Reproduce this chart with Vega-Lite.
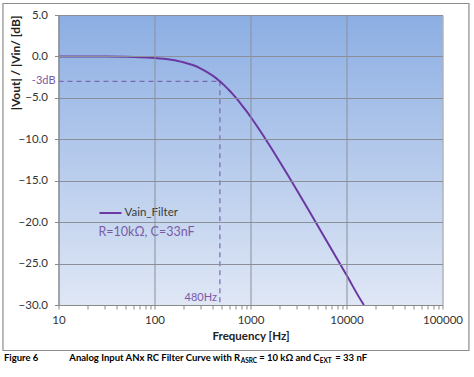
{
  "$schema": "https://vega.github.io/schema/vega-lite/v6.json",
  "width": 384,
  "height": 290,
  "autosize": {"type": "none"},
  "padding": {"left": 58.5, "top": 15, "right": 31.5, "bottom": 72},
  "background": "white",
  "config": {"view": {"stroke": null}, "font": "Lato"},
  "datasets": {
    "bg": [{"x": 10, "x2": 100000, "y": -30, "y2": 5}],
    "frame": [{"x": 2.64, "x2": 188500, "y": 6.39, "y2": -35.49}],
    "curve": [
      {"x": 10, "y": -0.002}, {"x": 20, "y": -0.008}, {"x": 30, "y": -0.017}, {"x": 50, "y": -0.047},
      {"x": 70, "y": -0.091}, {"x": 100, "y": -0.185}, {"x": 125, "y": -0.285}, {"x": 150, "y": -0.405},
      {"x": 175, "y": -0.541}, {"x": 200, "y": -0.695}, {"x": 250, "y": -1.042}, {"x": 300, "y": -1.432},
      {"x": 350, "y": -1.852}, {"x": 400, "y": -2.291}, {"x": 420, "y": -2.469}, {"x": 450, "y": -2.739},
      {"x": 480, "y": -3.010}, {"x": 520, "y": -3.372}, {"x": 550, "y": -3.642}, {"x": 600, "y": -4.087},
      {"x": 650, "y": -4.524}, {"x": 700, "y": -4.951}, {"x": 800, "y": -5.773}, {"x": 900, "y": -6.548},
      {"x": 1000, "y": -7.276}, {"x": 1200, "y": -8.603}, {"x": 1300, "y": -9.209}, {"x": 1500, "y": -10.320},
      {"x": 1700, "y": -11.317}, {"x": 2000, "y": -12.640}, {"x": 2500, "y": -14.491}, {"x": 3000, "y": -16.027},
      {"x": 4000, "y": -18.479}, {"x": 5000, "y": -20.394}, {"x": 7000, "y": -23.297}, {"x": 10000, "y": -26.385},
      {"x": 15000, "y": -29.902}, {"x": 15200, "y": -30.0}
    ],
    "dash": [
      {"x": 10, "x2": 480, "y": -3, "y2": -3},
      {"x": 480, "x2": 480, "y": -3, "y2": -30}
    ],
    "legendline": [{"x": 26.7, "x2": 45.3, "y": -18.9, "y2": -18.9}],
    "purpleLabels": [
      {"x": 10, "y": -3, "text": "-3dB"},
      {"x": 480, "y": -29.1, "text": "480Hz"}
    ],
    "legendText": [{"x": 48.7, "y": -18.9, "text": "Vain_Filter"}],
    "paramText": [{"x": 26.1, "y": -21.2, "text": "R=10kΩ, C=33nF"}],
    "captionLeft": [
      {"x": 2.70, "y": -36.34, "text": "Figure 6"},
      {"x": 1232, "y": -36.34, "text": "= 10 kΩ and C"},
      {"x": 7641, "y": -36.34, "text": "= 33 nF"}
    ],
    "captionRight": [
      {"x": 781, "y": -36.34, "text": "Analog Input ANx RC Filter Curve with R"}
    ],
    "captionSub": [
      {"x": 790, "y": -36.34, "text": "ASRC"},
      {"x": 5266, "y": -36.34, "text": "EXT"}
    ]
  },
  "encoding": {
    "x": {
      "field": "x", "type": "quantitative",
      "scale": {"type": "log", "domain": [10, 100000], "nice": false},
      "axis": {
        "values": [10,20,30,40,50,60,70,80,90,100,200,300,400,500,600,700,800,900,1000,2000,3000,4000,5000,6000,7000,8000,9000,10000,20000,30000,40000,50000,60000,70000,80000,90000,100000],
        "labelExpr": "indexof([10,100,1000,10000,100000], datum.value) >= 0 ? format(datum.value, 'd') : ''",
        "grid": true,
        "gridColor": "#8a8f99",
        "gridOpacity": {"condition": {"test": "indexof([10,100,1000,10000,100000], datum.value) >= 0", "value": 1}, "value": 0},
        "tickSize": 4, "tickColor": "#8a8a8a", "domainColor": "#8a8a8a",
        "labelFont": "Lato", "labelFontSize": 11.5, "labelColor": "#333333", "labelPadding": 5,
        "labelFlush": false, "labelOverlap": false,
        "title": "Frequency [Hz]", "titleFont": "Lato", "titleFontSize": 11.5, "titleFontWeight": "bold",
        "titleColor": "#222222", "titlePadding": 5,
        "zindex": 1
      }
    },
    "y": {
      "field": "y", "type": "quantitative",
      "scale": {"domain": [-30, 5], "nice": false, "zero": false},
      "axis": {
        "values": [-30, -25, -20, -15, -10, -5, 0, 5],
        "format": ".1f",
        "grid": true, "gridColor": "#8a8f99",
        "tickSize": 4, "tickColor": "#8a8a8a", "domainColor": "#8a8a8a",
        "labelFont": "Lato", "labelFontSize": 11.5, "labelColor": "#333333", "labelPadding": 7,
        "labelOverlap": false,
        "title": "|Vout| / |Vin/ [dB]", "titleFont": "Lato", "titleFontSize": 12, "titleFontWeight": "bold",
        "titleColor": "#222222", "titleAnchor": "end", "titlePadding": -4,
        "zindex": 1
      }
    }
  },
  "layer": [
    {
      "data": {"name": "bg"},
      "mark": {"type": "rect", "fill": {"gradient": "linear", "x1": 0, "y1": 0, "x2": 0, "y2": 1, "stops": [{"offset": 0, "color": "#8caee3"}, {"offset": 1, "color": "#dfe7f5"}]}},
      "encoding": {"x2": {"field": "x2"}, "y2": {"field": "y2"}}
    },
    {
      "data": {"name": "frame"},
      "mark": {"type": "rect", "fill": null, "stroke": "#8c8c8c", "strokeWidth": 1.2, "clip": false},
      "encoding": {"x2": {"field": "x2"}, "y2": {"field": "y2"}}
    },
    {
      "data": {"name": "dash"},
      "mark": {"type": "rule", "color": "#7a68ad", "strokeWidth": 1.2, "strokeDash": [5, 4]},
      "encoding": {"x2": {"field": "x2"}, "y2": {"field": "y2"}}
    },
    {
      "data": {"name": "curve"},
      "mark": {"type": "line", "color": "#6b38a3", "strokeWidth": 2, "interpolate": "monotone"},
      "encoding": {}
    },
    {
      "data": {"name": "legendline"},
      "mark": {"type": "rule", "color": "#6b38a3", "strokeWidth": 2},
      "encoding": {"x2": {"field": "x2"}, "y2": {"field": "y2"}}
    },
    {
      "data": {"name": "purpleLabels"},
      "mark": {"type": "text", "align": "right", "dx": -3, "baseline": "middle", "font": "Lato", "fontSize": 11, "color": "#7a5aa8", "clip": false},
      "encoding": {"text": {"field": "text"}}
    },
    {
      "data": {"name": "legendText"},
      "mark": {"type": "text", "align": "left", "baseline": "middle", "font": "Lato", "fontSize": 11.5, "color": "#3a3a3a"},
      "encoding": {"text": {"field": "text"}}
    },
    {
      "data": {"name": "paramText"},
      "mark": {"type": "text", "align": "left", "baseline": "middle", "font": "Lato", "fontSize": 12.5, "color": "#7a5aa8"},
      "encoding": {"text": {"field": "text"}}
    },
    {
      "data": {"name": "captionLeft"},
      "mark": {"type": "text", "align": "left", "baseline": "middle", "font": "Lato", "fontSize": 9.5, "fontWeight": "bold", "color": "#000000", "clip": false},
      "encoding": {"text": {"field": "text"}}
    },
    {
      "data": {"name": "captionRight"},
      "mark": {"type": "text", "align": "right", "baseline": "middle", "font": "Lato", "fontSize": 9.5, "fontWeight": "bold", "color": "#000000", "clip": false},
      "encoding": {"text": {"field": "text"}}
    },
    {
      "data": {"name": "captionSub"},
      "mark": {"type": "text", "align": "left", "baseline": "middle", "dy": 3, "font": "Lato", "fontSize": 6.5, "fontWeight": "bold", "color": "#000000", "clip": false},
      "encoding": {"text": {"field": "text"}}
    }
  ]
}
